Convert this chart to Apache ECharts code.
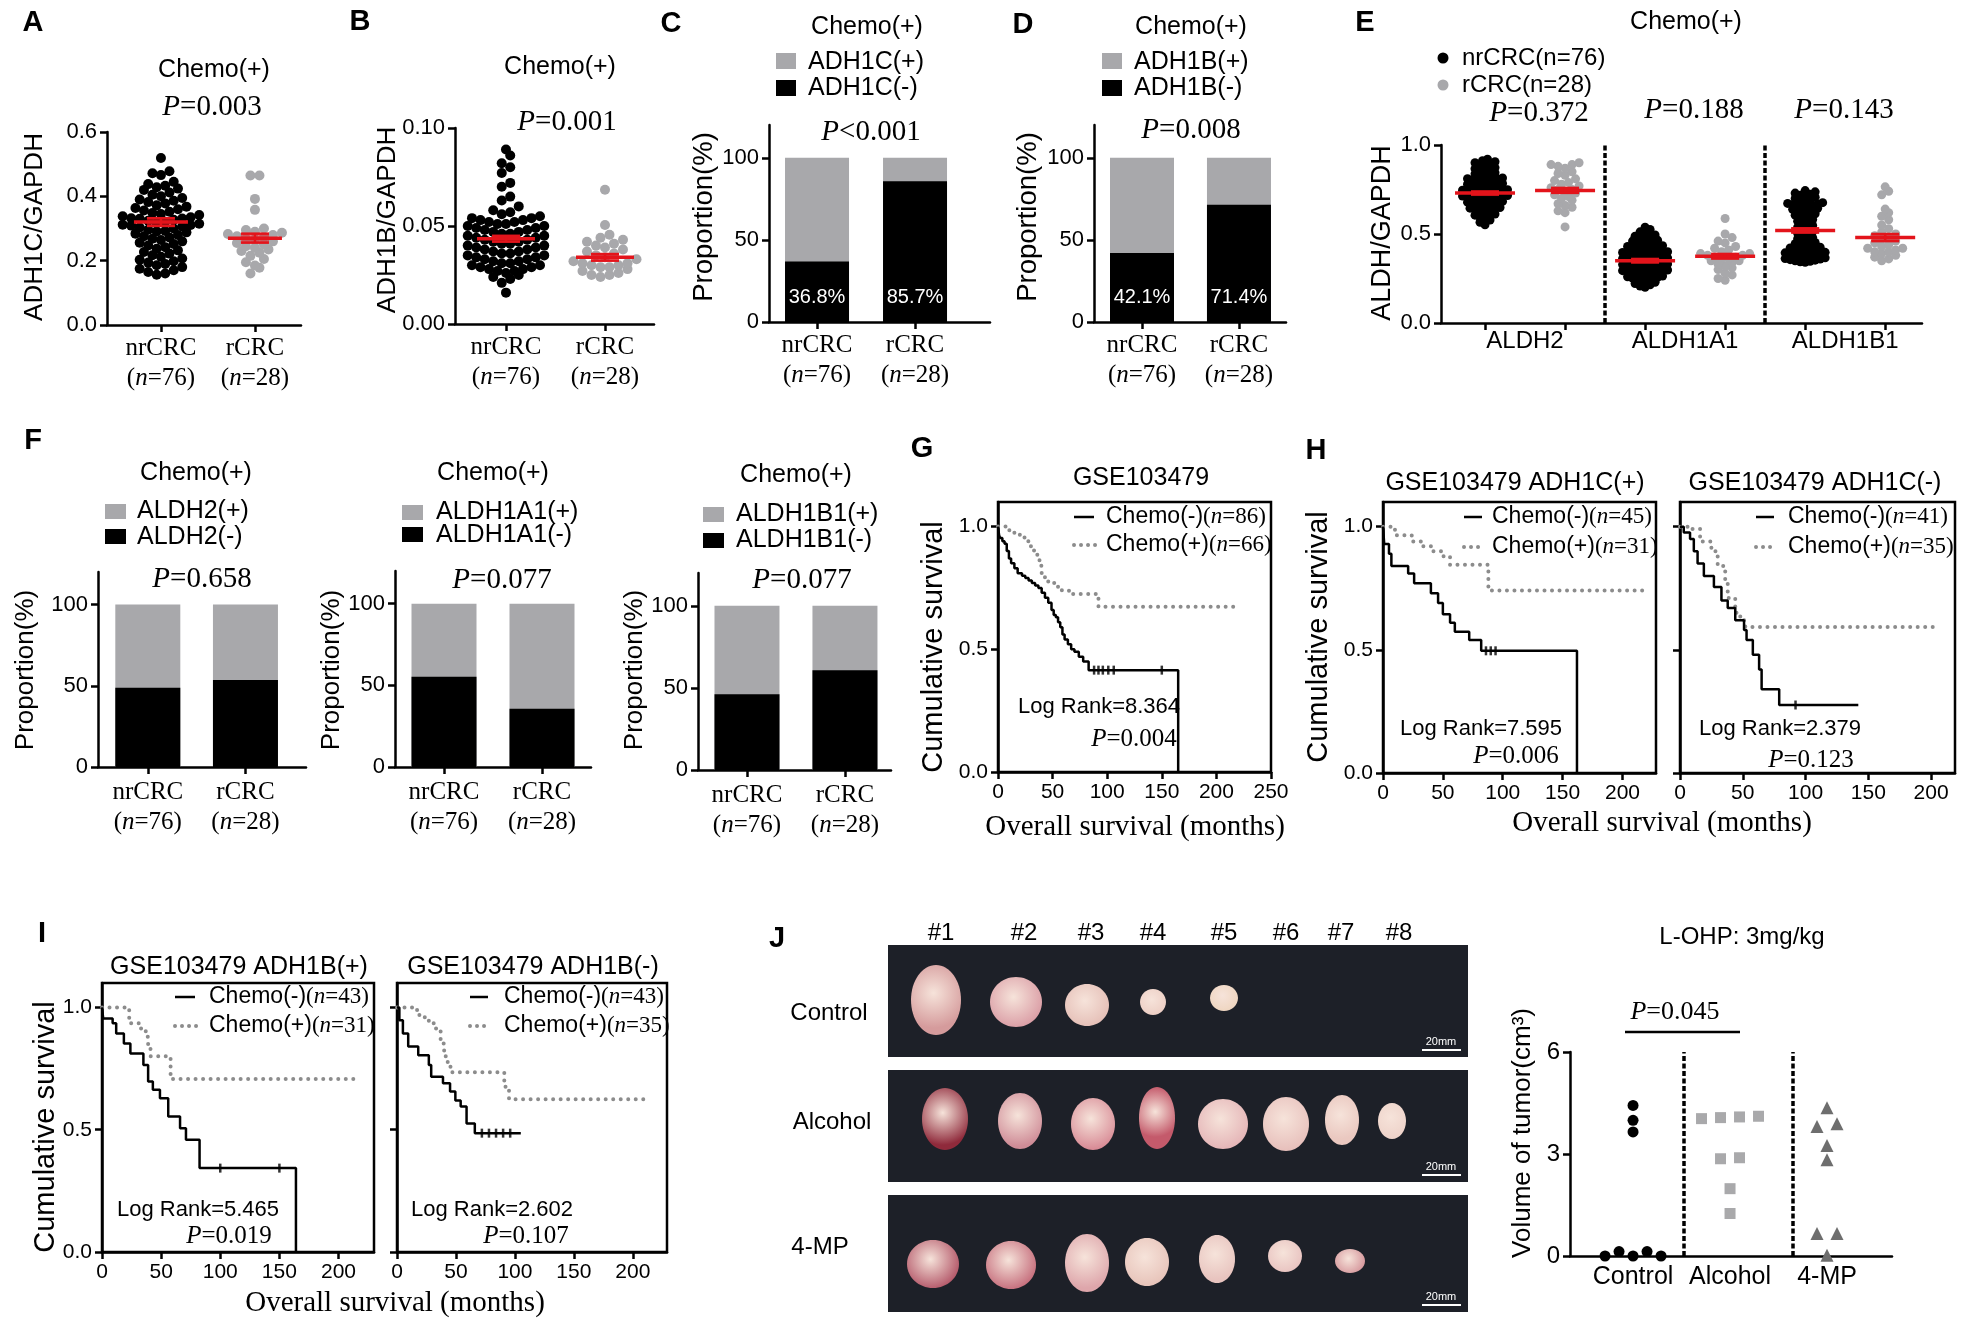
<!DOCTYPE html>
<html>
<head>
<meta charset="utf-8">
<script src="https://cdn.jsdelivr.net/npm/echarts@6/dist/echarts.min.js"></script>
<style>
  html, body { margin: 0; padding: 0; background: #fff; }
  #main { width: 1972px; height: 1331px; }
</style>
</head>
<body>
<div id="main"></div>
<script>
// ---------- data ----------
const groups = ['nrCRC', 'rCRC'];
const groupN = [76, 28];

// A: ADH1C/GAPDH
const adh1cNr = [0.519, 0.478, 0.472, 0.466, 0.445, 0.438, 0.433, 0.428, 0.424, 0.420,
  0.412, 0.405, 0.400, 0.395, 0.390, 0.386, 0.382, 0.378, 0.372, 0.368,
  0.364, 0.360, 0.356, 0.352, 0.348, 0.345, 0.342, 0.338, 0.335, 0.332,
  0.330, 0.327, 0.324, 0.321, 0.318, 0.315, 0.312, 0.309, 0.306, 0.303,
  0.300, 0.296, 0.292, 0.288, 0.284, 0.280, 0.276, 0.272, 0.268, 0.264,
  0.260, 0.256, 0.252, 0.247, 0.242, 0.237, 0.232, 0.227, 0.222, 0.217,
  0.212, 0.207, 0.203, 0.198, 0.194, 0.190, 0.186, 0.180, 0.175, 0.170,
  0.165, 0.160, 0.156, 0.331, 0.311, 0.291];
const adh1cR = [0.465, 0.465, 0.392, 0.358, 0.300, 0.295, 0.290, 0.287, 0.283, 0.280,
  0.276, 0.272, 0.268, 0.265, 0.260, 0.255, 0.250, 0.245, 0.240, 0.235,
  0.230, 0.225, 0.215, 0.205, 0.195, 0.185, 0.178, 0.160];
const adh1cMeanSem = [[0.32, 0.012], [0.27, 0.014]];

// B: ADH1B/GAPDH
const adh1bNr = [0.089, 0.086, 0.082, 0.080, 0.077, 0.072, 0.070, 0.065, 0.063, 0.060,
  0.058, 0.057, 0.056, 0.055, 0.054, 0.054, 0.053, 0.053, 0.052, 0.052,
  0.051, 0.051, 0.050, 0.050, 0.049, 0.049, 0.048, 0.048, 0.047, 0.047,
  0.046, 0.046, 0.045, 0.045, 0.044, 0.044, 0.043, 0.043, 0.042, 0.042,
  0.041, 0.041, 0.040, 0.040, 0.039, 0.039, 0.038, 0.038, 0.037, 0.037,
  0.036, 0.036, 0.035, 0.035, 0.034, 0.034, 0.033, 0.033, 0.032, 0.032,
  0.031, 0.031, 0.030, 0.030, 0.029, 0.029, 0.028, 0.028, 0.027, 0.027,
  0.026, 0.025, 0.024, 0.023, 0.021, 0.016];
const adh1bR = [0.0685, 0.0505, 0.0455, 0.044, 0.043, 0.042, 0.041, 0.040, 0.039, 0.038,
  0.037, 0.036, 0.035, 0.034, 0.033, 0.032, 0.031, 0.031, 0.030, 0.030,
  0.029, 0.029, 0.028, 0.027, 0.026, 0.025, 0.025, 0.024];
const adh1bMeanSem = [[0.0435, 0.0015], [0.034, 0.0017]];

// C, D: proportions (%)
const adh1cNeg = [36.8, 85.7];
const adh1cPos = [63.2, 14.3];
const adh1bNeg = [42.1, 71.4];
const adh1bPos = [57.9, 28.6];

// E: ALDH/GAPDH
const aldhGenes = ['ALDH2', 'ALDH1A1', 'ALDH1B1'];
const aldh2Nr = [0.552, 0.566, 0.578, 0.588, 0.594, 0.60, 0.606, 0.612,
  0.621, 0.626, 0.631, 0.636, 0.641, 0.645, 0.649,
  0.655, 0.659, 0.663, 0.667, 0.671, 0.675, 0.679, 0.683,
  0.688, 0.691, 0.694, 0.697, 0.70, 0.704, 0.707, 0.71, 0.713, 0.716,
  0.722, 0.725, 0.728, 0.731, 0.734, 0.737, 0.74, 0.743, 0.746, 0.749,
  0.757, 0.761, 0.765, 0.769, 0.772, 0.776, 0.78, 0.784, 0.787,
  0.791, 0.795, 0.799, 0.803, 0.807, 0.811, 0.815, 0.819,
  0.826, 0.832, 0.838, 0.844, 0.85, 0.855,
  0.861, 0.867, 0.873, 0.879, 0.886, 0.893, 0.90, 0.906, 0.912, 0.92];
const aldh2R = [0.90, 0.89, 0.89, 0.88, 0.87, 0.85, 0.84, 0.83, 0.81, 0.80,
  0.79, 0.78, 0.77, 0.76, 0.75, 0.75, 0.74, 0.73, 0.72, 0.71,
  0.70, 0.69, 0.67, 0.66, 0.65, 0.63, 0.62, 0.54];
const aldh1a1Nr = [0.201, 0.208, 0.215, 0.222, 0.229,
  0.236, 0.24, 0.244, 0.248, 0.252, 0.256, 0.26, 0.264,
  0.27, 0.273, 0.276, 0.279, 0.282, 0.285, 0.288, 0.291, 0.294, 0.298,
  0.304, 0.307, 0.31, 0.313, 0.316, 0.319, 0.322, 0.325, 0.328, 0.332,
  0.338, 0.341, 0.344, 0.347, 0.35, 0.353, 0.356, 0.359, 0.362, 0.366,
  0.372, 0.375, 0.378, 0.381, 0.384, 0.387, 0.39, 0.393, 0.396, 0.40,
  0.406, 0.41, 0.414, 0.418, 0.422, 0.426, 0.43, 0.434,
  0.44, 0.445, 0.45, 0.455, 0.46, 0.465, 0.47,
  0.476, 0.482, 0.488, 0.495, 0.502, 0.512, 0.525, 0.538];
const aldh1a1R = [0.587, 0.50, 0.48, 0.46, 0.45, 0.43, 0.42, 0.41, 0.40, 0.39,
  0.39, 0.38, 0.38, 0.37, 0.37, 0.36, 0.36, 0.35, 0.35, 0.34,
  0.33, 0.32, 0.31, 0.30, 0.28, 0.27, 0.25, 0.24];
const aldh1b1Nr = [0.341, 0.344, 0.347, 0.35, 0.353, 0.356, 0.359, 0.362, 0.366, 0.37,
  0.376, 0.379, 0.382, 0.385, 0.388, 0.391, 0.394, 0.397, 0.40, 0.404,
  0.41, 0.414, 0.418, 0.422, 0.426, 0.43, 0.434, 0.438,
  0.445, 0.452, 0.459, 0.466, 0.473, 0.48, 0.488, 0.496, 0.504,
  0.514, 0.522, 0.53, 0.538, 0.548, 0.556, 0.564, 0.572,
  0.581, 0.587, 0.593, 0.599, 0.606, 0.614, 0.619, 0.624, 0.629, 0.634, 0.639, 0.644,
  0.648, 0.652, 0.656, 0.66, 0.664, 0.668, 0.672, 0.676,
  0.683, 0.688, 0.694, 0.70, 0.707, 0.712, 0.718, 0.724, 0.73, 0.737, 0.744];
const aldh1b1R = [0.765, 0.74, 0.72, 0.64, 0.62, 0.60, 0.58, 0.55, 0.53, 0.51,
  0.50, 0.49, 0.48, 0.47, 0.46, 0.45, 0.44, 0.43, 0.42, 0.42,
  0.41, 0.40, 0.40, 0.39, 0.38, 0.37, 0.36, 0.35];
const aldhMeanSem = [[0.73, 0.008], [0.745, 0.014], [0.35, 0.009], [0.375, 0.013], [0.52, 0.012], [0.48, 0.02]];

// F: proportions (%)
const aldh2Neg = [48.7, 53.6];
const aldh2Pos = [51.3, 46.4];
const aldh1a1Neg = [55.3, 35.7];
const aldh1a1Pos = [44.7, 64.3];
const aldh1b1Neg = [46.1, 60.7];
const aldh1b1Pos = [53.9, 39.3];

// G, H, I: Kaplan-Meier steps [month, survival]
const kmTicks = [0, 50, 100, 150, 200];
const gNeg = [[0, 1], [1, 0.965], [2, 0.953], [4, 0.94], [6, 0.93], [8, 0.9], [10, 0.87], [12, 0.85], [15, 0.83], [18, 0.81],
  [22, 0.8], [25, 0.79], [28, 0.78], [31, 0.77], [34, 0.76], [37, 0.75], [40, 0.73], [43, 0.71], [46, 0.69], [49, 0.66],
  [51, 0.64], [53, 0.63], [55, 0.61], [57, 0.59], [59, 0.56], [61, 0.54], [64, 0.52], [67, 0.5], [70, 0.49], [74, 0.47],
  [78, 0.45], [83, 0.415], [165, 0]];
const gPos = [[0, 1], [8, 0.985], [15, 0.97], [20, 0.955], [25, 0.94], [30, 0.92], [33, 0.9], [36, 0.87], [38, 0.84], [40, 0.81],
  [43, 0.79], [46, 0.77], [52, 0.755], [58, 0.74], [65, 0.725], [92, 0.673], [219, 0.673]];
const gNegCens = [[88, 0.415], [92, 0.415], [96, 0.415], [101, 0.415], [106, 0.415], [150, 0.415]];

const h1Neg = [[0, 1], [1, 0.93], [5, 0.89], [7, 0.84], [21, 0.81], [26, 0.77], [40, 0.73], [46, 0.69], [50, 0.644],
  [56, 0.61], [60, 0.573], [72, 0.54], [82, 0.496], [162, 0]];
const h1Pos = [[0, 1], [10, 0.965], [24, 0.94], [33, 0.92], [41, 0.9], [50, 0.88], [56, 0.845], [88, 0.741], [217, 0.741]];
const h1NegCens = [[86, 0.496], [90, 0.496], [94, 0.496]];

const h2Neg = [[0, 1], [3, 0.976], [8, 0.95], [11, 0.9], [14, 0.85], [19, 0.8], [27, 0.755], [33, 0.7], [38, 0.67],
  [44, 0.62], [51, 0.58], [53, 0.54], [58, 0.48], [63, 0.42], [65, 0.34], [79, 0.276], [142, 0.276]];
const h2Pos = [[0, 1], [8, 0.99], [16, 0.94], [25, 0.9], [30, 0.84], [36, 0.78], [38, 0.71], [44, 0.65], [48, 0.62],
  [52, 0.593], [203, 0.593]];
const h2NegCens = [[92, 0.276]];

const i1Neg = [[0, 1], [1, 0.955], [9, 0.935], [12, 0.894], [18.5, 0.853], [24, 0.812], [35, 0.765], [39, 0.697],
  [43, 0.663], [49, 0.629], [56, 0.554], [66, 0.506], [71, 0.459], [82.5, 0.343], [164, 0]];
const i1Pos = [[0, 1], [23, 0.935], [33, 0.914], [37, 0.88], [39, 0.833], [41, 0.8], [58, 0.707], [218, 0.707]];
const i1NegCens = [[100, 0.343], [150, 0.343]];

const i2Neg = [[0, 1], [2, 0.948], [5, 0.894], [9.5, 0.84], [18, 0.805], [27, 0.765], [29, 0.717], [39, 0.69],
  [45, 0.656], [49.5, 0.62], [54, 0.595], [59, 0.525], [66, 0.486], [105, 0.486]];
const i2Pos = [[0, 1], [14, 0.99], [19, 0.96], [27, 0.935], [33, 0.914], [37, 0.853], [40, 0.8], [43, 0.758],
  [47, 0.735], [91, 0.676], [95, 0.625], [214, 0.625]];
const i2NegCens = [[72, 0.486], [78, 0.486], [84, 0.486], [90, 0.486], [96, 0.486]];

// J: tumour volume (cm3)
const mouseGroups = ['Control', 'Alcohol', '4-MP'];
const volControl = [0, 0.13, 0, 0.13, 0, 3.65, 3.99, 4.43];
const volAlcohol = [4.04, 4.07, 4.09, 4.11, 2.86, 2.89, 1.98, 1.25];
const vol4mp = [4.36, 3.81, 3.89, 3.25, 2.83, 0.66, 0.66, 0.02];

// ---------- layout ----------
const SANS = '"Liberation Sans", Arial, Helvetica, sans-serif';
const SERIF = '"Liberation Serif", "Times New Roman", Times, serif';
const GREY = '#a8a8ab';

// left, top, width, height of each plot area
const BOX = [
  [107, 132, 194, 193],   // A
  [455, 128, 199, 196],   // B
  [769, 125, 221, 197],   // C
  [1094, 125, 192, 197],  // D
  [1441, 145, 481, 178],  // E
  [98, 572, 208, 195],    // F1
  [395, 571, 196, 196],   // F2
  [698, 573, 193, 197],   // F3
  [998, 502, 273, 270],   // G
  [1383, 502, 273, 271],  // H1
  [1680, 502, 275, 271],  // H2
  [102, 983, 272, 269],   // I1
  [397, 983, 270, 269],   // I2
  [1570, 1052, 322, 204]  // J
];
const XR = [[-0.574, 1.49], [-0.515, 1.495], [-0.49, 1.765], [-0.495, 1.485], [-0.55, 5.46],
  [-0.51, 1.62], [-0.5, 1.5], [-0.5, 1.47], [0, 250], [0, 228], [0, 219], [0, 230], [0, 229], [-0.65, 2.67]];
const YR = [[0, 0.6], [0, 0.1], [0, 120], [0, 120], [0, 1], [0, 120], [0, 120], [0, 120],
  [0, 1.1], [0, 1.1], [0, 1.1], [0, 1.1], [0, 1.1], [0, 6]];

// beeswarm: points with close values share a row, rows spread symmetrically
function swarm(vals, centre, gi, rowPx, gapPx, byIndex) {
  const kx = BOX[gi][2] / (XR[gi][1] - XR[gi][0]);
  const ky = BOX[gi][3] / (YR[gi][1] - YR[gi][0]);
  const order = vals.map((v, i) => i).sort((a, b) => vals[a] - vals[b] || a - b);
  const rows = [];
  order.forEach(i => {
    const r = rows[rows.length - 1];
    if (r && (vals[i] - vals[r[0]]) * ky < rowPx) r.push(i); else rows.push([i]);
  });
  const pts = [];
  rows.forEach(r => {
    let slots;
    if (byIndex) {
      slots = r.slice().sort((a, b) => a - b).map((i, k) => [i, k - (r.length - 1) / 2]);
    } else {
      const half = (r.length - 1) / 2;
      const pos = [];
      for (let k = 0; k < r.length; k++) pos.push(k - half);
      pos.sort((a, b) => Math.abs(a) - Math.abs(b) || a - b);
      slots = r.map((i, k) => [i, pos[k]]);
    }
    slots.forEach(([i, s]) => pts.push([centre + s * gapPx / kx, vals[i]]));
  });
  return pts;
}

function ax(gi, range, o) {
  return {
    type: 'value', gridIndex: gi, min: range[0], max: range[1],
    splitLine: { show: false },
    axisLine: { show: true, onZero: false, lineStyle: { color: '#000', width: 2.5 } },
    axisTick: { show: !!o.ticks, customValues: o.ticks, length: 7, lineStyle: { color: '#000', width: 2.5 } },
    axisLabel: {
      show: !!o.labels, customValues: o.labels, formatter: o.fmt, margin: o.margin || 10,
      color: '#000', fontFamily: o.family || SANS, fontSize: o.fs || 22, rich: o.rich
    }
  };
}

const grpRich = {
  s: { fontFamily: SERIF, fontSize: 25, lineHeight: 30, color: '#000' },
  i: { fontFamily: SERIF, fontSize: 25, lineHeight: 30, color: '#000', fontStyle: 'italic' }
};
const grpFmt = v => {
  const k = Math.round(v);
  return '{s|' + groups[k] + '}\n{s|(}{i|n}{s|=' + groupN[k] + ')}';
};
const fix = d => v => v.toFixed(d);

const xAxes = [
  ax(0, XR[0], { ticks: [0, 1], labels: [0, 1], fmt: grpFmt, rich: grpRich, margin: 8 }),
  ax(1, XR[1], { ticks: [0, 1], labels: [0, 1], fmt: grpFmt, rich: grpRich, margin: 8 }),
  ax(2, XR[2], { ticks: [0, 1], labels: [0, 1], fmt: grpFmt, rich: grpRich, margin: 8 }),
  ax(3, XR[3], { ticks: [0, 1], labels: [0, 1], fmt: grpFmt, rich: grpRich, margin: 8 }),
  ax(4, XR[4], { ticks: [0, 1, 2, 3, 4, 5], labels: [0.5, 2.5, 4.5], fmt: v => aldhGenes[Math.round((v - 0.5) / 2)], fs: 24, margin: 6 }),
  ax(5, XR[5], { ticks: [0, 1], labels: [0, 1], fmt: grpFmt, rich: grpRich, margin: 10 }),
  ax(6, XR[6], { ticks: [0, 1], labels: [0, 1], fmt: grpFmt, rich: grpRich, margin: 10 }),
  ax(7, XR[7], { ticks: [0, 1], labels: [0, 1], fmt: grpFmt, rich: grpRich, margin: 10 }),
  ax(8, XR[8], { ticks: kmTicks.concat([250]), labels: kmTicks.concat([250]), fmt: String, fs: 21 }),
  ax(9, XR[9], { ticks: kmTicks, labels: kmTicks, fmt: String, fs: 21 }),
  ax(10, XR[10], { ticks: kmTicks, labels: kmTicks, fmt: String, fs: 21 }),
  ax(11, XR[11], { ticks: kmTicks, labels: kmTicks, fmt: String, fs: 21 }),
  ax(12, XR[12], { ticks: kmTicks, labels: kmTicks, fmt: String, fs: 21 }),
  ax(13, XR[13], { labels: [0, 1, 2], fmt: v => mouseGroups[Math.round(v)], fs: 25, margin: 9 })
];
const pct = [0, 50, 100];
const surv = [0, 0.5, 1];
const yAxes = [
  ax(0, YR[0], { ticks: [0, 0.2, 0.4, 0.6], labels: [0, 0.2, 0.4, 0.6], fmt: fix(1) }),
  ax(1, YR[1], { ticks: [0, 0.05, 0.1], labels: [0, 0.05, 0.1], fmt: fix(2) }),
  ax(2, YR[2], { ticks: pct, labels: pct, fmt: String }),
  ax(3, YR[3], { ticks: pct, labels: pct, fmt: String }),
  ax(4, YR[4], { ticks: surv, labels: surv, fmt: fix(1) }),
  ax(5, YR[5], { ticks: pct, labels: pct, fmt: String }),
  ax(6, YR[6], { ticks: pct, labels: pct, fmt: String }),
  ax(7, YR[7], { ticks: pct, labels: pct, fmt: String }),
  ax(8, YR[8], { ticks: surv, labels: surv, fmt: fix(1), fs: 21 }),
  ax(9, YR[9], { ticks: surv, labels: surv, fmt: fix(1), fs: 21 }),
  ax(10, YR[10], { ticks: surv }),
  ax(11, YR[11], { ticks: surv, labels: surv, fmt: fix(1), fs: 21 }),
  ax(12, YR[12], { ticks: surv }),
  ax(13, YR[13], { ticks: [0, 3, 6], labels: [0, 3, 6], fmt: String, fs: 24 })
];

const grids = BOX.map((b, i) => ({
  left: b[0], top: b[1], width: b[2], height: b[3], containLabel: false, outerBoundsMode: 'none',
  show: i >= 8 && i <= 12, borderColor: '#000', borderWidth: 2.5, backgroundColor: 'transparent'
}));

// ---------- series ----------
function dots(gi, pts, color, size, symbol) {
  return { type: 'scatter', xAxisIndex: gi, yAxisIndex: gi, data: pts, symbol: symbol || 'circle',
    symbolSize: size, itemStyle: { color: color, opacity: 1 }, silent: true, z: 3 };
}
function meanSem(gi, ms, half, whisk) {
  return {
    type: 'custom', xAxisIndex: gi, yAxisIndex: gi, silent: true, z: 6,
    data: ms.map((m, i) => [i, m[0], m[1]]),
    renderItem: (p, api) => {
      const x = api.value(0), m = api.value(1), e = api.value(2);
      const c = api.coord([x, m]), hi = api.coord([x, m + e]), lo = api.coord([x, m - e]);
      const st = { stroke: '#e3141b', lineWidth: 2.5 };
      const top = Math.min(hi[1], c[1] - 3), bot = Math.max(lo[1], c[1] + 3);
      return { type: 'group', children: [
        { type: 'rect', shape: { x: c[0] - whisk, y: top, width: 2 * whisk, height: bot - top }, style: { fill: 'rgba(227,20,27,0.55)' } },
        { type: 'line', shape: { x1: c[0] - half, y1: c[1], x2: c[0] + half, y2: c[1] }, style: { stroke: '#e3141b', lineWidth: 3.5 } },
        { type: 'line', shape: { x1: c[0], y1: hi[1], x2: c[0], y2: lo[1] }, style: st },
        { type: 'line', shape: { x1: c[0] - whisk, y1: hi[1], x2: c[0] + whisk, y2: hi[1] }, style: st },
        { type: 'line', shape: { x1: c[0] - whisk, y1: lo[1], x2: c[0] + whisk, y2: lo[1] }, style: st }
      ] };
    }
  };
}
// grey bar = whole group (100%), black bar = negative part drawn over it
function stackBars(gi, neg, pos, w, withLabel) {
  return [
    { type: 'bar', xAxisIndex: gi, yAxisIndex: gi, barWidth: w, barGap: '-100%', silent: true, z: 2,
      data: neg.map((v, i) => [i, v + pos[i]]), itemStyle: { color: GREY } },
    { type: 'bar', xAxisIndex: gi, yAxisIndex: gi, barWidth: w, barGap: '-100%', silent: true, z: 3,
      data: neg.map((v, i) => [i, v]), itemStyle: { color: '#000' },
      label: withLabel ? { show: true, position: 'insideBottom', distance: 15, color: '#fff', fontFamily: SANS,
        fontSize: 20, formatter: p => p.value[1].toFixed(1) + '%' } : { show: false } }
  ];
}
function km(gi, neg, pos, cens) {
  return [
    { type: 'line', xAxisIndex: gi, yAxisIndex: gi, data: pos, step: 'end', symbol: 'none', silent: true, z: 3,
      lineStyle: { color: '#8c8c8c', width: 4, type: [0.01, 7.5], cap: 'round' } },
    { type: 'line', xAxisIndex: gi, yAxisIndex: gi, data: neg, step: 'end', symbol: 'none', silent: true, z: 4,
      lineStyle: { color: '#000', width: 2.5 } },
    { type: 'scatter', xAxisIndex: gi, yAxisIndex: gi, data: cens, symbol: 'rect', symbolSize: [2.5, 9],
      itemStyle: { color: '#000' }, silent: true, z: 4 }
  ];
}
const sepLine = xs => ({
  symbol: 'none', silent: true, label: { show: false },
  lineStyle: { color: '#000', width: 3.5, type: [5, 2.5] },
  data: xs.map(x => ({ xAxis: x }))
});

const series = [];
// A, B
series.push(dots(0, swarm(adh1cNr, 0, 0, 8, 8.5), '#000', 10));
series.push(dots(0, swarm(adh1cR, 1, 0, 8, 9), GREY, 10));
series.push(meanSem(0, adh1cMeanSem, 27, 14));
series.push(dots(1, swarm(adh1bNr, 0, 1, 8, 8.5), '#000', 10));
series.push(dots(1, swarm(adh1bR, 1, 1, 8, 9), GREY, 10));
series.push(meanSem(1, adh1bMeanSem, 29, 14));
// C, D
series.push(...stackBars(2, adh1cNeg, adh1cPos, 64, true));
series.push(...stackBars(3, adh1bNeg, adh1bPos, 64, true));
// E
const eSets = [aldh2Nr, aldh2R, aldh1a1Nr, aldh1a1R, aldh1b1Nr, aldh1b1R];
eSets.forEach((vals, k) => {
  const s = k % 2 ? dots(4, swarm(vals, k, 4, 6, 7), GREY, 9) : dots(4, swarm(vals, k, 4, 5, 5), '#000', 9);
  if (k === 0) s.markLine = sepLine([1.5, 3.5]);
  series.push(s);
});
series.push(meanSem(4, aldhMeanSem, 30, 14));
// F
series.push(...stackBars(5, aldh2Neg, aldh2Pos, 65, false));
series.push(...stackBars(6, aldh1a1Neg, aldh1a1Pos, 65, false));
series.push(...stackBars(7, aldh1b1Neg, aldh1b1Pos, 65, false));
// G, H, I
series.push(...km(8, gNeg, gPos, gNegCens));
series.push(...km(9, h1Neg, h1Pos, h1NegCens));
series.push(...km(10, h2Neg, h2Pos, h2NegCens));
series.push(...km(11, i1Neg, i1Pos, i1NegCens));
series.push(...km(12, i2Neg, i2Pos, i2NegCens));
// J
const jc = dots(13, swarm(volControl, 0, 13, 8, 14, true), '#000', 11);
jc.markLine = sepLine([0.515, 1.65]);
series.push(jc);
series.push(dots(13, swarm(volAlcohol, 1, 13, 8, 19, true), '#a9a9ab', 11, 'rect'));
series.push(dots(13, swarm(vol4mp, 2, 13, 8, 20, true), '#6e6e6e', 13, 'triangle'));

// ---------- text and decoration ----------
const G = [];
function text(x, y, str, size, o) {
  o = o || {};
  G.push({ type: 'text', x: x, y: y, rotation: o.rot || 0, z: 50, silent: true,
    style: { text: str, fill: o.fill || '#000', fontFamily: o.family || SANS, fontSize: size,
      fontWeight: o.weight || 'normal', fontStyle: o.style || 'normal',
      align: o.align || 'center', verticalAlign: 'middle', rich: o.rich } });
}
function pval(x, y, str, size) {
  text(x, y, '{i|P}{r|' + str + '}', size, { rich: {
    i: { fontFamily: SERIF, fontSize: size, fontStyle: 'italic', fill: '#000' },
    r: { fontFamily: SERIF, fontSize: size, fill: '#000' } } });
}
function rect(x, y, w, h, fill) {
  G.push({ type: 'rect', shape: { x: x, y: y, width: w, height: h }, style: { fill: fill }, silent: true, z: 40 });
}
function seg(x1, y1, x2, y2, st) {
  G.push({ type: 'line', shape: { x1: x1, y1: y1, x2: x2, y2: y2 }, style: st, silent: true, z: 40 });
}
const ROT = Math.PI / 2;

// panel letters
[['A', 33, 23], ['B', 360, 22], ['C', 671, 24], ['D', 1023, 25], ['E', 1365, 23], ['F', 33, 441],
 ['G', 922, 449], ['H', 1316, 451], ['I', 42, 934], ['J', 777, 939]]
  .forEach(l => text(l[1], l[2], l[0], 29, { weight: 'bold' }));

// Chemo(+) titles
[[214, 70], [560, 67], [867, 27], [1191, 27], [1686, 22], [196, 473], [493, 473], [796, 475]]
  .forEach(p => text(p[0], p[1], 'Chemo(+)', 25));

// p values
[[212, 107, '=0.003'], [567, 122, '=0.001'], [871, 132, '<0.001'], [1191, 130, '=0.008'],
 [1539, 113, '=0.372'], [1694, 110, '=0.188'], [1844, 110, '=0.143'],
 [202, 579, '=0.658'], [502, 580, '=0.077'], [802, 580, '=0.077']]
  .forEach(p => pval(p[0], p[1], p[2], 29));
[[1134, 739, '=0.004'], [1516, 756, '=0.006'], [1811, 760, '=0.123'], [229, 1236, '=0.019'], [526, 1236, '=0.107']]
  .forEach(p => pval(p[0], p[1], p[2], 25));
pval(1675, 1012, '=0.045', 26);
seg(1625, 1032, 1740, 1032, { stroke: '#000', lineWidth: 2.5 });

// log rank
[[1099, 707, '8.364'], [1481, 729, '7.595'], [1780, 729, '2.379'], [198, 1210, '5.465'], [492, 1210, '2.602']]
  .forEach(p => text(p[0], p[1], 'Log Rank=' + p[2], 22));

// y axis titles
[[35, 227, 'ADH1C/GAPDH', 26], [388, 220, 'ADH1B/GAPDH', 26], [704, 217, 'Proportion(%)', 27.5],
 [1028, 217, 'Proportion(%)', 27.5], [1383, 233, 'ALDH/GAPDH', 27], [26, 670, 'Proportion(%)', 26],
 [332, 670, 'Proportion(%)', 26], [635, 670, 'Proportion(%)', 26], [1523, 1133, 'Volume of tumor(cm³)', 26]]
  .forEach(p => text(p[0], p[1], p[2], p[3], { rot: ROT }));
[[934, 647], [1319, 637], [46, 1127]].forEach(p => text(p[0], p[1], 'Cumulative survival', 29, { rot: ROT }));

// KM titles and x titles
[[1141, 478, 'GSE103479'], [1515, 483, 'GSE103479 ADH1C(+)'], [1815, 483, 'GSE103479 ADH1C(-)'],
 [239, 967, 'GSE103479 ADH1B(+)'], [533, 967, 'GSE103479 ADH1B(-)']]
  .forEach(p => text(p[0], p[1], p[2], 25));
[[1135, 827], [1662, 823], [395, 1303]].forEach(p => text(p[0], p[1], 'Overall survival (months)', 29, { family: SERIF }));

// KM legends
const legRich = {
  a: { fontFamily: SANS, fontSize: 23, fill: '#000' },
  b: { fontFamily: SERIF, fontSize: 23, fill: '#000' },
  i: { fontFamily: SERIF, fontSize: 23, fill: '#000', fontStyle: 'italic' }
};
[[1074, 1094, 1106, 517, 545, 86, 66], [1464, 1482, 1492, 517, 547, 45, 31], [1756, 1774, 1788, 517, 547, 41, 35],
 [175, 195, 209, 997, 1026, 43, 31], [470, 488, 504, 997, 1026, 43, 35]].forEach(l => {
  seg(l[0], l[3], l[1], l[3], { stroke: '#000', lineWidth: 2.5 });
  seg(l[0], l[4], l[1] + 2, l[4], { stroke: '#8c8c8c', lineWidth: 4, lineDash: [0.01, 7], lineCap: 'round' });
  text(l[2], l[3], '{a|Chemo(-)}{b|(}{i|n}{b|=' + l[5] + ')}', 23, { align: 'left', rich: legRich });
  text(l[2], l[4], '{a|Chemo(+)}{b|(}{i|n}{b|=' + l[6] + ')}', 23, { align: 'left', rich: legRich });
});

// bar legends
[[776, 808, 53, 80, 62, 88, 20, 16, 'ADH1C'], [1102, 1134, 53, 80, 62, 88, 20, 16, 'ADH1B'],
 [105, 137, 504, 529, 511, 537, 21, 15, 'ALDH2'], [402, 436, 505, 527, 512, 535, 21, 15, 'ALDH1A1'],
 [703, 736, 507, 533, 514, 540, 21, 15, 'ALDH1B1']].forEach(l => {
  rect(l[0], l[2], l[6], l[7], GREY);
  rect(l[0], l[3], l[6], l[7], '#000');
  text(l[1], l[4], l[8] + '(+)', 25, { align: 'left' });
  text(l[1], l[5], l[8] + '(-)', 25, { align: 'left' });
});

// E legend
G.push({ type: 'circle', shape: { cx: 1443, cy: 58, r: 5.5 }, style: { fill: '#000' }, z: 40, silent: true });
G.push({ type: 'circle', shape: { cx: 1443, cy: 85, r: 5.5 }, style: { fill: GREY }, z: 40, silent: true });
text(1462, 58, 'nrCRC(n=76)', 24, { align: 'left' });
text(1462, 85, 'rCRC(n=28)', 24, { align: 'left' });

// J title
text(1742, 937, 'L-OHP: 3mg/kg', 24);

// J photo (illustration)
const photoRows = [[945, 1057], [1070, 1182], [1195, 1312]];
photoRows.forEach(r => {
  rect(888, r[0], 580, r[1] - r[0], '#1d2028');
  text(1441, r[1] - 15, '20mm', 11, { fill: '#fff' });
  seg(1422, r[1] - 7, 1461, r[1] - 7, { stroke: '#fff', lineWidth: 2 });
});
[[941, '#1'], [1024, '#2'], [1091, '#3'], [1153, '#4'], [1224, '#5'], [1286, '#6'], [1341, '#7'], [1399, '#8']]
  .forEach(p => text(p[0], 933, p[1], 24));
text(829, 1013, 'Control', 24);
text(832, 1122, 'Alcohol', 24);
text(820, 1247, '4-MP', 24);
const tumours = [
  [936, 1000, 25, 35, '#d59b9c'], [1016, 1002, 26, 25, '#d7959f'], [1087, 1005, 22, 21, '#e3bbb3'],
  [1153, 1002, 13, 13, '#ecccc2'], [1224, 998, 14, 13, '#eed4bd'],
  [945, 1119, 23, 31, '#8f2a3b'], [1020, 1121, 22, 28, '#cf8c97'], [1093, 1124, 22, 26, '#d88a95'],
  [1157, 1118, 18, 31, '#c45a6b'], [1223, 1124, 25, 25, '#e2aeb2'], [1286, 1124, 23, 27, '#e7bfbb'],
  [1342, 1120, 17, 25, '#eac8c0'], [1392, 1121, 14, 18, '#eed3ca'],
  [933, 1264, 26, 24, '#ad4a5e'], [1011, 1265, 25, 24, '#c06071'], [1087, 1263, 22, 29, '#dea6ab'],
  [1147, 1262, 22, 24, '#e6c1b7'], [1217, 1259, 18, 24, '#e8c4bf'], [1285, 1256, 17, 16, '#e7c0be'],
  [1350, 1261, 15, 12, '#d6989d']
];
tumours.forEach(t => G.push({
  type: 'ellipse', shape: { cx: t[0], cy: t[1], rx: t[2], ry: t[3] }, silent: true, z: 41,
  style: { fill: { type: 'radial', x: 0.45, y: 0.4, r: 0.7,
    colorStops: [{ offset: 0, color: '#f6e3da' }, { offset: 1, color: t[4] }] } }
}));

const chart = echarts.init(document.getElementById('main'), null, { renderer: 'canvas', width: 1972, height: 1331 });
chart.setOption({
  animation: false,
  backgroundColor: '#fff',
  textStyle: { fontFamily: SANS },
  grid: grids,
  xAxis: xAxes,
  yAxis: yAxes,
  series: series,
  graphic: { elements: G }
});
</script>
</body>
</html>
